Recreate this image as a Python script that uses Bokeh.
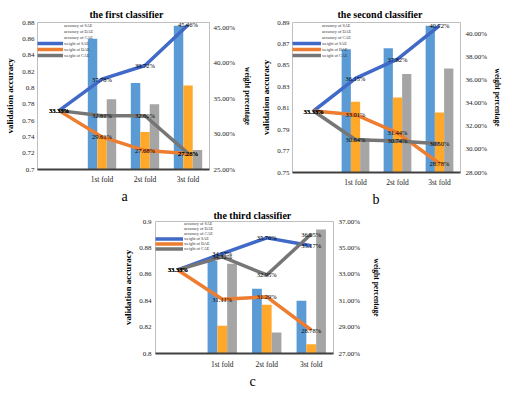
from bokeh.plotting import figure
from bokeh.models import (Range1d, LinearAxis, FixedTicker, ColumnDataSource, LabelSet,
                          Legend, LegendItem, Title, FactorRange, Spacer)
from bokeh.layouts import row, column
from bokeh.transform import dodge
from bokeh.core.properties import value
from bokeh.embed import file_html
from bokeh.resources import INLINE

# ---------------- data ----------------
positions = ["", "1st fold", "2st fold", "3st fold"]
folds = ["1st fold", "2st fold", "3st fold"]
bar_names = ["accuracy of SAE", "accuracy of DAE", "accuracy of CAE"]
line_names = ["weight of SAE", "weight of DAE", "weight of CAE"]

# the first classifier
a_acc_sae = [0.860, 0.806, 0.876]
a_acc_dae = [0.740, 0.746, 0.803]
a_acc_cae = [0.786, 0.780, 0.724]
a_w_sae = [33.33, 37.78, 39.72, 45.46]
a_w_dae = [33.33, 29.61, 27.68, 27.26]
a_w_cae = [33.33, 32.61, 32.60, 27.28]
a_left_ticks = [0.70, 0.72, 0.74, 0.76, 0.78, 0.80, 0.82, 0.84, 0.86, 0.88]
a_left_labels = ["0.7", "0.72", "0.74", "0.76", "0.78", "0.8", "0.82", "0.84", "0.86", "0.88"]
a_right_ticks = [25, 30, 35, 40, 45]
a_right_labels = ["25.00%", "30.00%", "35.00%", "40.00%", "45.00%"]

# the second classifier
b_acc_sae = [0.865, 0.866, 0.887]
b_acc_dae = [0.816, 0.820, 0.806]
b_acc_cae = [0.782, 0.842, 0.847]
b_w_sae = [33.33, 36.15, 37.82, 40.72]
b_w_dae = [33.33, 33.01, 31.44, 28.78]
b_w_cae = [33.33, 30.84, 30.74, 30.50]
b_left_ticks = [0.75, 0.77, 0.79, 0.81, 0.83, 0.85, 0.87, 0.89]
b_left_labels = ["0.75", "0.77", "0.79", "0.81", "0.83", "0.85", "0.87", "0.89"]
b_right_ticks = [28, 30, 32, 34, 36, 38, 40]
b_right_labels = ["28.00%", "30.00%", "32.00%", "34.00%", "36.00%", "38.00%", "40.00%"]

# the third classifier
c_acc_sae = [0.870, 0.849, 0.840]
c_acc_dae = [0.821, 0.837, 0.807]
c_acc_cae = [0.868, 0.816, 0.894]
c_w_sae = [33.33, 34.57, 35.76, 35.17]
c_w_dae = [33.33, 31.11, 31.29, 28.78]
c_w_cae = [33.33, 34.32, 32.95, 36.05]
c_left_ticks = [0.80, 0.82, 0.84, 0.86, 0.88, 0.90]
c_left_labels = ["0.8", "0.82", "0.84", "0.86", "0.88", "0.9"]
c_right_ticks = [27, 29, 31, 33, 35, 37]
c_right_labels = ["27.00%", "29.00%", "31.00%", "33.00%", "35.00%", "37.00%"]

# ---------------- style ----------------
SERIF = "Liberation Serif"
BAR_COLORS = ["#5B9BD5", "#FFA82A", "#A5A5A5"]
LINE_COLORS = ["#4169C8", "#ED7D31", "#767676"]


def make_panel(title, title_off, letter, letter_off, letter_std, acc, weights,
               left_rng, lt, ll, right_rng, rt, rl,
               fw, fh, bl, br, bt, bb, lstd, lastd, rstd, rastd,
               xstd, glyph_w, row_h, title_std):
    p = figure(x_range=FactorRange(factors=positions), y_range=Range1d(*left_rng),
               frame_width=fw, frame_height=fh,
               min_border_left=bl, min_border_right=br,
               min_border_top=bt, min_border_bottom=bb,
               output_backend="svg", toolbar_location=None, title=title)
    p.extra_y_ranges = {"w": Range1d(*right_rng)}
    p.xgrid.visible = False
    p.ygrid.visible = False
    p.outline_line_color = "#BFBFBF"
    p.outline_line_width = 1
    p.background_fill_color = "white"
    p.border_fill_color = "white"

    p.title.align = "left"
    p.title.offset = title_off
    p.title.standoff = title_std
    p.title.text_font = SERIF
    p.title.text_font_style = "bold"
    p.title.text_font_size = "10px"
    p.title.text_color = "black"

    # bars
    src = ColumnDataSource(dict(fold=folds, sae=acc[0], dae=acc[1], cae=acc[2]))
    for key, off, col in zip(["sae", "dae", "cae"], [-0.22, 0.0, 0.22], BAR_COLORS):
        p.vbar(x=dodge("fold", off, range=p.x_range), top=key, bottom=left_rng[0],
               width=0.22, source=src, fill_color=col, line_color=None)

    # lines
    line_rs = []
    for w, col in zip(weights, LINE_COLORS):
        r = p.line(x=positions, y=w, y_range_name="w", line_color=col, line_width=3.5)
        line_rs.append(r)
    for w in weights:
        ls = ColumnDataSource(dict(x=positions, y=w, t=["%.2f%%" % v for v in w]))
        p.add_layout(LabelSet(x="x", y="y", text="t", source=ls, y_range_name="w",
                              text_align="center", text_baseline="middle",
                              text_font=value(SERIF), text_font_size="6.5px",
                              text_color="black"))

    # legend
    items = []
    for name, col in zip(bar_names, BAR_COLORS):
        r = p.line(x=[], y=[], line_color=col, line_width=3)
        items.append(LegendItem(label=name, renderers=[r]))
    for name, r in zip(line_names, line_rs):
        items.append(LegendItem(label=name, renderers=[r]))
    leg = Legend(items=items, location="top_left", label_text_font=SERIF,
                 label_text_font_size="4.2px", label_text_color="#333333",
                 label_height=row_h, glyph_height=row_h, glyph_width=glyph_w,
                 spacing=0, padding=1, margin=0, label_standoff=1,
                 background_fill_alpha=0, border_line_color=None)
    p.add_layout(leg)

    # x axis
    xa = p.xaxis[0]
    xa.axis_line_color = "#404040"
    xa.axis_line_width = 2
    xa.major_tick_line_color = None
    xa.major_tick_out = 0
    xa.major_tick_in = 0
    xa.major_label_standoff = xstd
    xa.major_label_text_font = SERIF
    xa.major_label_text_font_size = "7.5px"
    xa.major_label_text_color = "#222222"

    # left axis
    ya = p.yaxis[0]
    ya.ticker = FixedTicker(ticks=lt)
    ya.major_label_overrides = {t: s for t, s in zip(lt, ll)}
    ya.axis_line_color = None
    ya.major_tick_line_color = None
    ya.minor_tick_line_color = None
    ya.major_tick_out = 0
    ya.major_tick_in = 0
    ya.major_label_standoff = lstd
    ya.major_label_text_font = SERIF
    ya.major_label_text_font_size = "7px"
    ya.major_label_text_color = "#222222"
    ya.axis_label = "validation accuracy"
    ya.axis_label_standoff = lastd
    ya.axis_label_text_font = SERIF
    ya.axis_label_text_font_style = "bold"
    ya.axis_label_text_font_size = "9px"
    ya.axis_label_text_color = "black"

    # right axis
    ra = LinearAxis(y_range_name="w", ticker=FixedTicker(ticks=rt),
                    major_label_overrides={t: s for t, s in zip(rt, rl)})
    ra.axis_line_color = None
    ra.major_tick_line_color = None
    ra.minor_tick_line_color = None
    ra.major_tick_out = 0
    ra.major_tick_in = 0
    ra.major_label_standoff = rstd
    ra.major_label_text_font = SERIF
    ra.major_label_text_font_size = "7px"
    ra.major_label_text_color = "#222222"
    ra.axis_label = "weight percentage"
    ra.axis_label_standoff = rastd
    ra.axis_label_text_font = SERIF
    ra.axis_label_text_font_style = "bold"
    ra.axis_label_text_font_size = "7.5px"
    ra.axis_label_text_color = "black"
    p.add_layout(ra, "right")

    # panel letter under the chart
    p.add_layout(Title(text=letter, align="left", offset=letter_off, standoff=letter_std,
                       text_font=SERIF, text_font_style="normal", text_font_size="14px",
                       text_color="black"), "below")
    return p


pa = make_panel("the first classifier", 52, "a", 84, 1,
                [a_acc_sae, a_acc_dae, a_acc_cae], [a_w_sae, a_w_dae, a_w_cae],
                (0.70, 0.88), a_left_ticks, a_left_labels,
                (25, 45.8), a_right_ticks, a_right_labels,
                fw=172, fh=147, bl=37, br=49, bt=22, bb=36,
                lstd=3, lastd=4, rstd=4, rastd=5, xstd=5,
                glyph_w=26, row_h=6, title_std=6)

pb = make_panel("the second classifier", 45, "b", 80, 0,
                [b_acc_sae, b_acc_dae, b_acc_cae], [b_w_sae, b_w_dae, b_w_cae],
                (0.75, 0.89), b_left_ticks, b_left_labels,
                (28, 41), b_right_ticks, b_right_labels,
                fw=168, fh=150, bl=34, br=44, bt=20, bb=35,
                lstd=3, lastd=3, rstd=5, rastd=3, xstd=5,
                glyph_w=29, row_h=6, title_std=5)

pc = make_panel("the third classifier", 58, "c", 94, 0,
                [c_acc_sae, c_acc_dae, c_acc_cae], [c_w_sae, c_w_dae, c_w_cae],
                (0.80, 0.90), c_left_ticks, c_left_labels,
                (27, 37), c_right_ticks, c_right_labels,
                fw=178, fh=132, bl=33, br=50, bt=16, bb=36,
                lstd=4, lastd=3, rstd=5, rastd=9, xstd=6,
                glyph_w=28, row_h=5, title_std=1)

page = column(row(pa, pb), row(Spacer(width=120, height=184), pc))

open("out.html", "w").write(file_html(page, INLINE))
